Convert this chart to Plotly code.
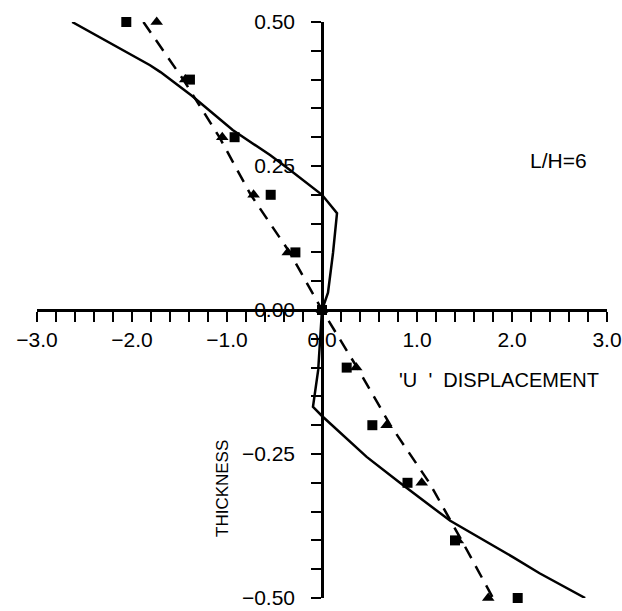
import plotly.graph_objects as go

# Through-thickness 'U' displacement profile, L/H = 6
theory_x = [-2.63, -1.81, -1.70, -1.37, -0.94, -0.547, -0.337, 0.0, 0.158, 0.116, 0.063, 0.0,
            -0.04, -0.095, 0.0, 0.47, 0.82, 1.35, 2.01, 2.29, 2.77]
theory_y = [0.5, 0.425, 0.413, 0.372, 0.3125, 0.269, 0.243, 0.2, 0.168, 0.099, 0.03, 0.0,
            -0.104, -0.168, -0.184, -0.255, -0.30, -0.366, -0.429, -0.457, -0.5]

dashed_x = [-1.88, -1.46, -1.08, -0.75, -0.34, 0.0, 0.37, 0.72, 1.13, 1.47, 1.80]
dashed_y = [0.5, 0.4, 0.3, 0.2, 0.1, 0.0, -0.1, -0.2, -0.3, -0.4, -0.5]

levels = [0.5, 0.4, 0.3, 0.2, 0.1, 0.0, -0.1, -0.2, -0.3, -0.4, -0.5]
square_x = [-2.06, -1.39, -0.92, -0.54, -0.28, 0.0, 0.26, 0.53, 0.90, 1.40, 2.06]
triangle_x = [-1.74, -1.44, -1.05, -0.72, -0.36, 0.0, 0.36, 0.68, 1.05, 1.43, 1.75]

x_ticks = [-3, -2, -1, 0, 1, 2, 3]
y_ticks = [-0.5, -0.25, 0.0, 0.25, 0.5]

W, H = 622, 611
FONT = "Liberation Sans"


def px(x):
    return x / W


def py(y):
    return 1 - y / H


fig = go.Figure()
fig.add_trace(go.Scatter(x=theory_x, y=theory_y, mode="lines",
                         line=dict(color="black", width=2.5), cliponaxis=False))
fig.add_trace(go.Scatter(x=dashed_x, y=dashed_y, mode="lines",
                         line=dict(color="black", width=2.5, dash="13px,9px"), cliponaxis=False))
fig.add_trace(go.Scatter(x=square_x, y=levels, mode="markers",
                         marker=dict(symbol="square", size=10, color="black"), cliponaxis=False))
fig.add_trace(go.Scatter(x=triangle_x, y=levels, mode="markers",
                         marker=dict(symbol="triangle-up", size=11, color="black"), cliponaxis=False))

axis_common = dict(showgrid=False, zeroline=False, showline=True, linecolor="black",
                   linewidth=2.5, ticks="outside", ticklen=10, tickwidth=2,
                   tickcolor="black", tickfont=dict(family=FONT, size=21, color="black"),
                   anchor="free", automargin=False)

fig.update_xaxes(range=[-3, 3], domain=[px(37), px(607)], tickvals=x_ticks,
                 tickformat=".1f", position=py(310),
                 minor=dict(dtick=0.2, tick0=0, ticks="outside", ticklen=10,
                            tickwidth=2, tickcolor="black"),
                 **axis_common)
fig.update_yaxes(range=[-0.5, 0.5], domain=[py(598), py(22)], tickvals=y_ticks,
                 tickformat=".2f", position=px(322), ticklabelstandoff=12,
                 minor=dict(dtick=0.05, tick0=0, ticks="outside", ticklen=10,
                            tickwidth=2, tickcolor="black"),
                 **axis_common)

annots = [
    dict(text="'U\u00a0\u00a0'\u00a0 DISPLACEMENT", x=px(499), y=py(380), textangle=0, size=20),
    dict(text="THICKNESS", x=px(222), y=py(489), textangle=-90, size=17),
    dict(text="L/H=6", x=px(558), y=py(160), textangle=0, size=21),
]
for a in annots:
    fig.add_annotation(text=a["text"], x=a["x"], y=a["y"], xref="paper", yref="paper",
                       xanchor="center", yanchor="middle",
                       textangle=a["textangle"], showarrow=False,
                       font=dict(family=FONT, size=a["size"], color="black"))

fig.update_layout(width=W, height=H, margin=dict(l=0, r=0, t=0, b=0),
                  plot_bgcolor="white", paper_bgcolor="white", showlegend=False)

fig.write_html("out.html")
